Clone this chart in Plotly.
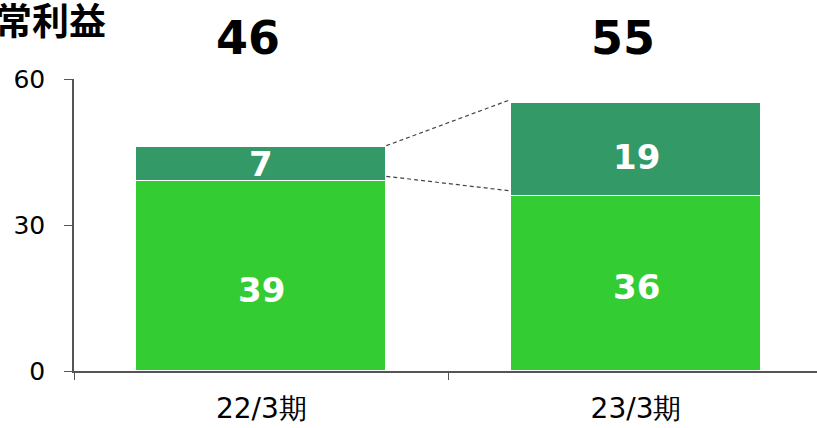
import plotly.graph_objects as go

# 経常利益 by fiscal period (億円)
periods = ["22/3期", "23/3期"]
base_values = [39, 36]
top_values = [7, 19]
totals = [46, 55]
y_ticks = [0, 30, 60]

base_color = "#33CC33"
top_color = "#339966"
bar_width = 0.667

fig = go.Figure()

fig.add_trace(go.Bar(
    x=periods, y=base_values,
    marker=dict(color=base_color, line=dict(color="white", width=1)),
    width=bar_width, hoverinfo="x+y",
))
fig.add_trace(go.Bar(
    x=periods, y=top_values,
    marker=dict(color=top_color, line=dict(color="white", width=1)),
    width=bar_width, hoverinfo="x+y",
))

label_font = dict(family="DejaVu Sans", size=34, color="white")
base_shift = [-14, -4]
top_shift = [0, -7]

# segment values inside each segment
for i, (b, t) in enumerate(zip(base_values, top_values)):
    fig.add_annotation(x=i, y=b / 2, text=f"<b>{b}</b>", showarrow=False,
                       yshift=base_shift[i], font=label_font)
    fig.add_annotation(x=i, y=b + t / 2, text=f"<b>{t}</b>", showarrow=False,
                       yshift=top_shift[i], font=label_font)

# totals above each bar
for i, t in enumerate(totals):
    fig.add_annotation(
        x=i, y=1, yref="paper", yanchor="bottom", yshift=12, xshift=-13,
        text=f"<b>{t}</b>", showarrow=False,
        font=dict(family="DejaVu Sans", size=46, color="black"),
    )

# dashed connectors between the upper segments
half = bar_width / 2
connector = dict(color="#444444", width=1.2, dash="4px,3px")
fig.add_shape(type="line", x0=0 + half, x1=1 - half,
              y0=totals[0] + 0.3, y1=totals[1] + 0.8, line=connector)
fig.add_shape(type="line", x0=0 + half, x1=1 - half,
              y0=base_values[0] + 1, y1=base_values[1] + 1, line=connector)

# chart title
fig.add_annotation(
    x=(108 - 74) / 743, xref="paper", xanchor="right",
    y=1, yref="paper", yanchor="middle", yshift=60,
    text="<b>経常利益</b>", showarrow=False,
    font=dict(family="Noto Sans CJK JP", size=37, color="black"),
)

fig.update_layout(
    barmode="stack",
    width=817, height=428,
    margin=dict(l=74, r=0, t=79, b=57),
    plot_bgcolor="white", paper_bgcolor="white",
    showlegend=False,
    bargap=0,
)
fig.update_xaxes(
    range=[-0.5, 1.483],
    showline=True, linecolor="#555555", linewidth=1.5,
    ticks="outside", tickson="boundaries", ticklen=7, tickcolor="#555555",
    ticklabelstandoff=12,
    tickfont=dict(family="DejaVu Sans", size=28, color="black"),
)
fig.update_yaxes(
    range=[0, 60], tickvals=y_ticks,
    showline=True, linecolor="#555555", linewidth=1.5,
    ticks="outside", ticklen=8, tickcolor="#555555",
    ticklabelstandoff=14,
    showgrid=False, zeroline=False,
    tickfont=dict(family="DejaVu Sans", size=25, color="black"),
)

fig.write_html("out.html")
